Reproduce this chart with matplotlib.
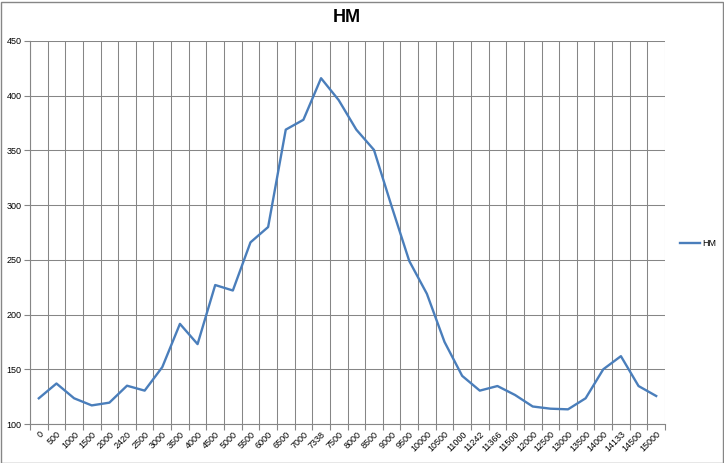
import matplotlib.pyplot as plt
import numpy as np

categories = ['0', '500', '1000', '1500', '2000', '2420', '2500', '3000', '3500', '4000',
              '4500', '5000', '5500', '6000', '6500', '7000', '7338', '7500', '8000', '8500',
              '9000', '9500', '10000', '10500', '11000', '11242', '11366', '11500', '12000',
              '12500', '13000', '13500', '14000', '14133', '14500', '15000']
hm_values = [123.5, 137, 123.5, 117, 119.5, 135, 130.5, 152, 191.5, 173,
             227, 222, 266, 280, 369, 378, 416, 396, 369, 350.5,
             299, 249, 219, 175, 144, 130.5, 134.7, 126.5, 116,
             114, 113.4, 123.5, 150, 162, 134.7, 125.6]

plt.rcParams['font.family'] = ['Liberation Sans', 'DejaVu Sans']

fig = plt.figure(figsize=(7.24, 4.63), dpi=100)
ax = fig.add_axes([30 / 724, 39 / 463, 635 / 724, 383 / 463])

x = np.arange(len(categories))
line, = ax.plot(x, hm_values, color='#4A7EBB', linewidth=1.7, label='HM')

ax.set_xlim(-0.5, len(categories) - 0.5)
ax.set_ylim(100, 450)
ax.set_yticks(np.arange(100, 451, 50))
ax.set_xticks(np.arange(len(categories) + 1) - 0.5, minor=False)
ax.set_xticklabels([])
ax.set_xticks(x, minor=True)
ax.set_xticklabels(categories, minor=True, rotation=45, ha='right', va='top',
                   rotation_mode='anchor', fontsize=6.5)
ax.tick_params(axis='x', which='minor', length=0, pad=4)
ax.tick_params(axis='x', which='major', length=4, color='#868686', direction='out')
ax.tick_params(axis='y', length=4, color='#868686', labelsize=6.5, pad=2)

ax.grid(True, which='major', color='#868686', linewidth=0.75)
ax.set_axisbelow(True)
for side in ['top', 'right']:
    ax.spines[side].set_visible(False)
for side in ['left', 'bottom']:
    ax.spines[side].set_color('#868686')

fig.text(347 / 724, 1 - 18 / 463, 'HM', ha='center', va='center',
         fontsize=13, fontweight='bold')

fig.legend(handles=[line], loc='center left', bbox_to_anchor=(672 / 724, 1 - 244 / 463),
           frameon=False, fontsize=6.5, handlelength=2.2, handletextpad=0.3)

fig.patches.append(plt.Rectangle((0.5 / 724, 0.5 / 463), 722 / 724, 461 / 463,
                                 transform=fig.transFigure, fill=False,
                                 edgecolor='#868686', linewidth=1))

plt.savefig('out.png', dpi=100)
